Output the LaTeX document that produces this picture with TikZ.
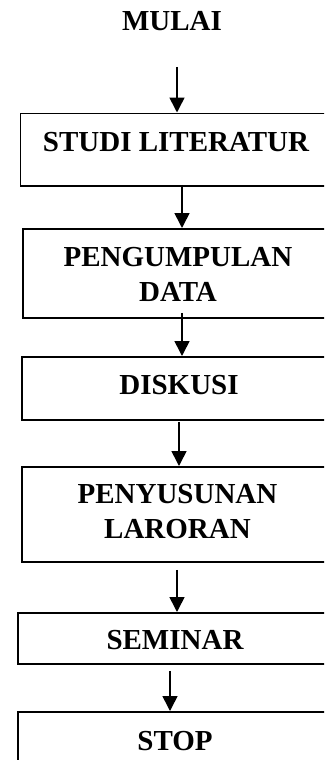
\documentclass[tikz,border=0pt]{standalone}
\usepackage{fontspec}
\setmainfont{Liberation Serif}
\usetikzlibrary{arrows.meta}
\begin{document}
\begin{tikzpicture}[x=1pt,y=-1pt,
  box/.style={draw,line width=1.8pt,rectangle,inner sep=0pt,anchor=north west,minimum width=#1},
  box/.default=314,
  lbl/.style={font=\fontsize{29}{35}\selectfont\bfseries,inner sep=0pt,anchor=base,align=center},
  flow/.style={line width=1.6pt,-{Triangle[width=15pt,length=15pt]}}]
\useasboundingbox (0,0) rectangle (324,760);
\clip (0,0) rectangle (324,760);
% boxes
\node[box=314.5,minimum height=72.5pt] (b1) at (19.5,112.5) {};
\node[box=312,minimum height=89pt] (b2) at (22,228) {};
\node[box=313,minimum height=63pt] (b3) at (21,356) {};
\node[box=313,minimum height=95pt] (b4) at (21,466) {};
\node[box=317,minimum height=51pt] (b5) at (17,612) {};
\node[box=317,minimum height=80pt] (b6) at (17,711) {};
% labels
\node[lbl] (mulai) at (172,31) {MULAI};
\node[lbl] (t1) at (176,151) {STUDI LITERATUR};
\node[lbl] (t2) at (178,301) {PENGUMPULAN\\DATA};
\node[lbl] (t3) at (179,394.5) {DISKUSI};
\node[lbl] (t4) at (177.5,538) {PENYUSUNAN\\LARORAN};
\node[lbl] (t5) at (175,649.5) {SEMINAR};
\node[lbl] (t6) at (175,750) {STOP};
% connectors
\coordinate (s0) at (177,67);
\draw[flow] (s0) -- (b1.north -| s0);
\coordinate (x2) at (182,0);
\draw[flow] ([yshift=2pt]b1.south -| x2) -- (b2.north -| x2);
\draw[flow] ([yshift=6pt]b2.south -| x2) -- (b3.north -| x2);
\coordinate (x4) at (179,0);
\draw[flow] ([yshift=-1pt]b3.south -| x4) -- (b4.north -| x4);
\coordinate (x5) at (177,0);
\draw[flow] ([yshift=-7pt]b4.south -| x5) -- (b5.north -| x5);
\coordinate (x6) at (170,0);
\draw[flow] ([yshift=-6pt]b5.south -| x6) -- (b6.north -| x6);
\end{tikzpicture}
\end{document}
